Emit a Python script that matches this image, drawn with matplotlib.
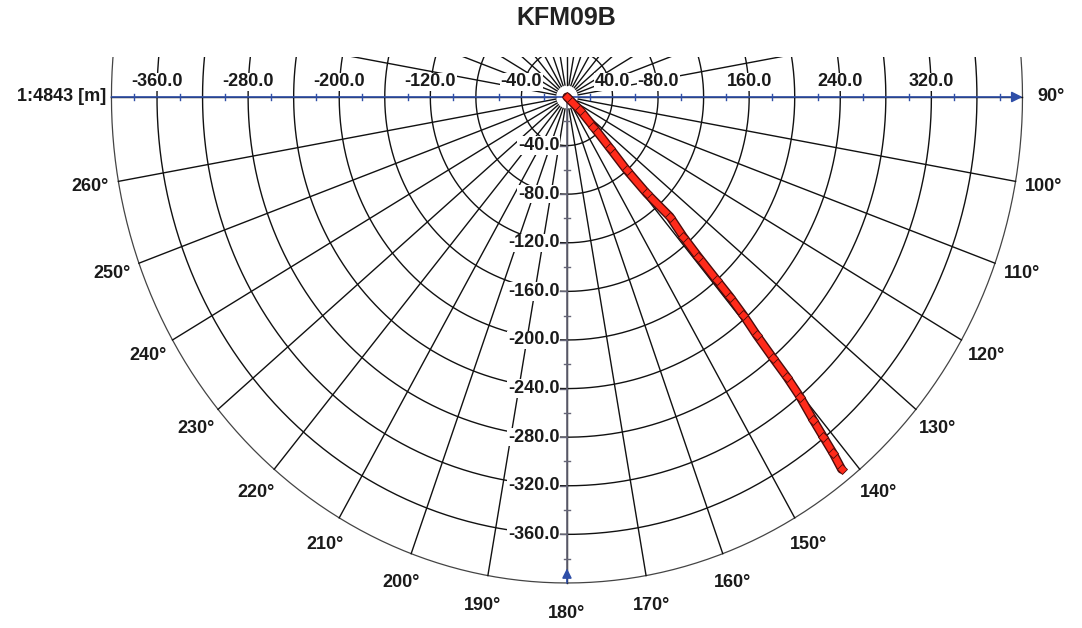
import numpy as np
import matplotlib
matplotlib.use('Agg')
import matplotlib.pyplot as plt
import matplotlib.patheffects as pe

# borehole trace in plan view [m]
east = [0.0, 11.4, 23.1, 37.8, 52.4, 70.0, 90.4, 102.1, 115.3, 131.4, 143.1,
        154.8, 166.5, 181.1, 192.9, 204.6, 216.2, 225.0, 233.8, 241.2]
north = [0.0, -10.7, -24.4, -42.2, -60.1, -79.3, -98.5, -115.0, -131.4, -150.6, -164.4,
         -179.4, -195.9, -215.1, -230.2, -246.7, -265.8, -279.6, -293.3, -306.4]

ring_radii = [40, 80, 120, 160, 200, 240, 280, 320, 360]
outer_radius = 400
spoke_angles = list(range(0, 360, 10))
compass_labels = list(range(90, 270, 10))
x_label_pos = [-360, -280, -200, -120, -40, 40, 80, 160, 240, 320]
x_label_txt = ['-360.0', '-280.0', '-200.0', '-120.0', '-40.0', '40.0', '-80.0', '160.0', '240.0', '320.0']
y_label_pos = [-40, -80, -120, -160, -200, -240, -280, -320, -360]

title = 'KFM09B'
scale_txt = '1:4843 [m]'

plt.rcParams['font.family'] = ['Liberation Sans', 'DejaVu Sans']

blue = '#2f4fa8'
fig = plt.figure(figsize=(10.82, 6.28), dpi=100)
ax = fig.add_axes([0.0609, 0.0330, 0.9262, 0.8764])
ax.set_xlim(-440, 440)
ax.set_ylim(-420, 33)
ax.axis('off')

# polar grid
t = np.linspace(0, 2 * np.pi, 721)
for r in ring_radii:
    ax.plot(r * np.sin(t), r * np.cos(t), color='#111111', lw=1.0, zorder=1)
ax.plot(outer_radius * np.sin(t), outer_radius * np.cos(t), color='#444444', lw=0.9, zorder=1)
for a in spoke_angles:
    th = np.radians(a)
    ax.plot([10 * np.sin(th), outer_radius * np.sin(th)],
            [10 * np.cos(th), outer_radius * np.cos(th)], color='#111111', lw=1.0, zorder=1)

# compass labels
for a in compass_labels:
    th = np.radians(a)
    ax.text(425 * np.sin(th), 425 * np.cos(th), f'{a}\u00b0', ha='center', va='center',
            fontsize=13, fontweight='bold', color='#1a1a1a', clip_on=False)

# horizontal axis
ax.annotate('', xy=(outer_radius, 0), xytext=(-outer_radius, 0),
            arrowprops=dict(arrowstyle='-|>', color=blue, lw=1.2, mutation_scale=16,
                            shrinkA=0, shrinkB=0), zorder=4)
for v in range(-380, 400, 40):
    ax.plot([v, v], [-2.5, 2.5], color=blue, lw=1.0, zorder=4)
for p, s in zip(x_label_pos, x_label_txt):
    ax.text(p, 12.5, s, ha='center', va='center', fontsize=13, fontweight='bold',
            color='#1a1a1a', zorder=3,
            bbox=dict(facecolor='white', edgecolor='none', pad=0.5))
ax.text(-405, 0, scale_txt, ha='right', va='center', fontsize=13, fontweight='bold',
        color='#1a1a1a', clip_on=False)

# vertical axis
ax.plot([0, 0], [0, -394], color='#666677', lw=1.2, zorder=4)
ax.annotate('', xy=(0, -388), xytext=(0, -outer_radius),
            arrowprops=dict(arrowstyle='-|>', color=blue, lw=1.2, mutation_scale=14,
                            shrinkA=0, shrinkB=0), zorder=5)
for v in range(-20, -390, -40):
    ax.plot([-2.5, 2.5], [v, v], color='#666677', lw=1.0, zorder=4)
for p in y_label_pos:
    ax.plot([-6, 0], [p, p], color='#666677', lw=1.0, zorder=4)
    ax.text(-6.5, p, f'{p:.1f}', ha='right', va='center', fontsize=13, fontweight='bold',
            color='#1a1a1a', zorder=3,
            bbox=dict(facecolor='white', edgecolor='none', pad=0.5))

# borehole trace
ax.plot(east, north, color='#ff2a1a', lw=4.5, solid_joinstyle='round', solid_capstyle='round',
        path_effects=[pe.Stroke(linewidth=6.5, foreground='#4a0c0c'), pe.Normal()], zorder=6)
ax.plot(east, north, 'D', color='#ff2a1a', mec='#4a0c0c', mew=0.6, ms=5.5, zorder=7)

fig.text(0.523, 0.972, title, ha='center', va='center', fontsize=18, fontweight='bold',
         color='#222222')

fig.savefig('out.png', dpi=100)
